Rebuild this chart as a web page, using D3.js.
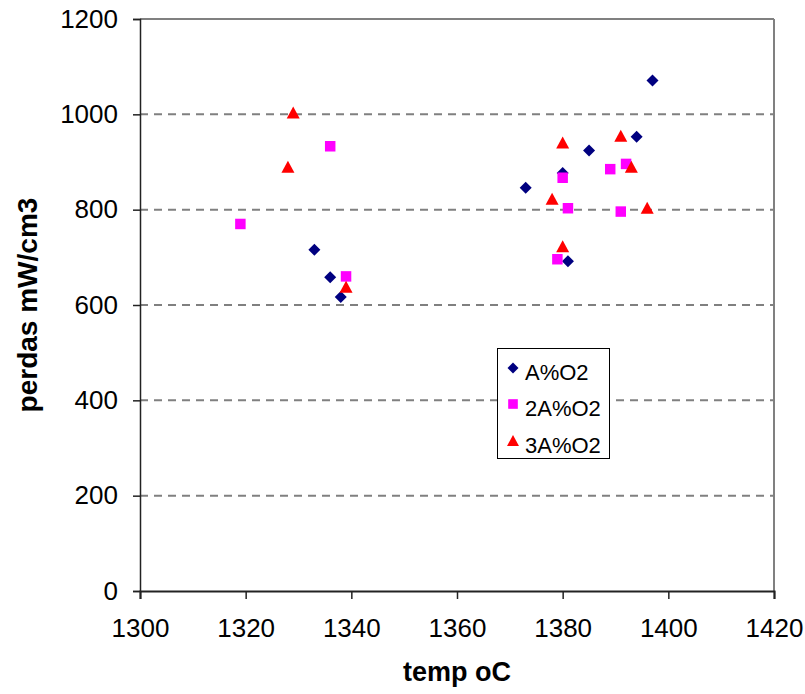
<!DOCTYPE html>
<html>
<head>
<meta charset="utf-8">
<script src="https://cdn.jsdelivr.net/npm/d3@7/dist/d3.min.js"></script>
<style>
  body { margin: 0; background: #fff; }
  svg { display: block; }
  text { font-family: "Liberation Sans", Arial, sans-serif; fill: #000; }
</style>
</head>
<body>
<svg id="chart" width="805" height="694"></svg>
<script>
// ---- data ----
const seriesNames = ["A%O2", "2A%O2", "3A%O2"];
const seriesColors = ["#000080", "#FF00FF", "#FF0000"];
const seriesShapes = ["diamond", "square", "triangle"];

const tempA  = [1333, 1336, 1338, 1373, 1380, 1381, 1385, 1394, 1397];
const perdA  = [716, 658, 617, 846, 877, 692, 924, 953, 1071];

const temp2A = [1319, 1336, 1339, 1379, 1380, 1381, 1389, 1391, 1392];
const perd2A = [770, 933, 660, 696, 867, 803, 885, 796, 896];

const temp3A = [1328, 1329, 1339, 1378, 1380, 1380, 1391, 1393, 1396];
const perd3A = [889, 1003, 637, 822, 940, 722, 954, 889, 803];

const xTicks = [1300, 1320, 1340, 1360, 1380, 1400, 1420];
const yTicks = [0, 200, 400, 600, 800, 1000, 1200];

const xTitle = "temp oC";
const yTitle = "perdas mW/cm3";

// ---- layout ----
const svg = d3.select("#chart");
const L = 140, R = 774, T = 19, B = 591;

const x = d3.scaleLinear().domain([1300, 1420]).range([L, R]);
const y = d3.scaleLinear().domain([0, 1200]).range([B, T]);

// gridlines
svg.append("g").selectAll("line")
  .data(yTicks.filter(d => d > 0 && d < 1200))
  .join("line")
  .attr("x1", L).attr("x2", R)
  .attr("y1", d => y(d)).attr("y2", d => y(d))
  .attr("stroke", "#808080").attr("stroke-width", 2)
  .attr("stroke-dasharray", "8,6");

// top and right border
svg.append("line").attr("x1", L).attr("x2", R).attr("y1", y(1200)).attr("y2", y(1200))
  .attr("stroke", "#808080").attr("stroke-width", 2);
svg.append("line").attr("x1", R).attr("x2", R).attr("y1", T).attr("y2", B)
  .attr("stroke", "#808080").attr("stroke-width", 2);

// axes
const xAxis = d3.axisBottom(x).tickValues(xTicks).tickFormat(d3.format("d")).tickSize(8).tickPadding(20);
const gx = svg.append("g").attr("transform", `translate(0,${B})`).call(xAxis);
gx.select(".domain").attr("stroke", "#222").attr("stroke-width", 2);
gx.selectAll(".tick line").attr("stroke", "#222").attr("stroke-width", 1.5);
gx.selectAll("text").attr("font-size", 26).attr("font-family", "Liberation Sans, Arial, sans-serif").attr("fill", "#000");

const yAxis = d3.axisLeft(y).tickValues(yTicks).tickFormat(d3.format("d")).tickSize(7).tickPadding(15);
const gy = svg.append("g").attr("transform", `translate(${L},0)`).call(yAxis);
gy.select(".domain").attr("stroke", "#222").attr("stroke-width", 1.5);
gy.selectAll(".tick line").attr("stroke", "#222").attr("stroke-width", 1.5);
gy.selectAll("text").attr("font-size", 26).attr("font-family", "Liberation Sans, Arial, sans-serif").attr("fill", "#000");

// axis titles
svg.append("text").attr("x", (L + R) / 2).attr("y", 681)
  .attr("text-anchor", "middle").attr("font-size", 27).attr("font-weight", "bold")
  .text(xTitle);
svg.append("text").attr("transform", `translate(37,${(T + B) / 2}) rotate(-90)`)
  .attr("text-anchor", "middle").attr("font-size", 28).attr("font-weight", "bold")
  .text(yTitle);

// symbols
function symbolFor(shape, size) {
  if (shape === "diamond") return d3.symbol().type({
    draw(ctx, s) { const r = Math.sqrt(s) / 2; ctx.moveTo(0, -r); ctx.lineTo(r, 0); ctx.lineTo(0, r); ctx.lineTo(-r, 0); ctx.closePath(); }
  }).size(144)();
  if (shape === "square") return d3.symbol().type(d3.symbolSquare).size(110)();
  return d3.symbol().type({
    draw(ctx, s) { const w = 6.5; ctx.moveTo(0, -6.5); ctx.lineTo(w, 5.5); ctx.lineTo(-w, 5.5); ctx.closePath(); }
  }).size(1)();
}

const seriesData = [
  d3.zip(tempA, perdA),
  d3.zip(temp2A, perd2A),
  d3.zip(temp3A, perd3A)
];

seriesData.forEach((pts, i) => {
  svg.append("g").selectAll("path")
    .data(pts)
    .join("path")
    .attr("d", symbolFor(seriesShapes[i]))
    .attr("transform", d => `translate(${x(d[0])},${y(d[1])})`)
    .attr("fill", seriesColors[i]);
});

// legend
const lg = svg.append("g");
lg.append("rect").attr("x", 497.5).attr("y", 348.5).attr("width", 112).attr("height", 110)
  .attr("fill", "#fff").attr("stroke", "#000").attr("stroke-width", 1);
const rowY = [368, 404, 441];
seriesNames.forEach((name, i) => {
  lg.append("path").attr("d", symbolFor(seriesShapes[i]))
    .attr("transform", `translate(513,${rowY[i]}) scale(0.92)`)
    .attr("fill", seriesColors[i]);
  lg.append("text").attr("x", 525).attr("y", rowY[i] + 6)
    .attr("dominant-baseline", "middle")
    .attr("font-size", 22).text(name);
});
</script>
</body>
</html>
